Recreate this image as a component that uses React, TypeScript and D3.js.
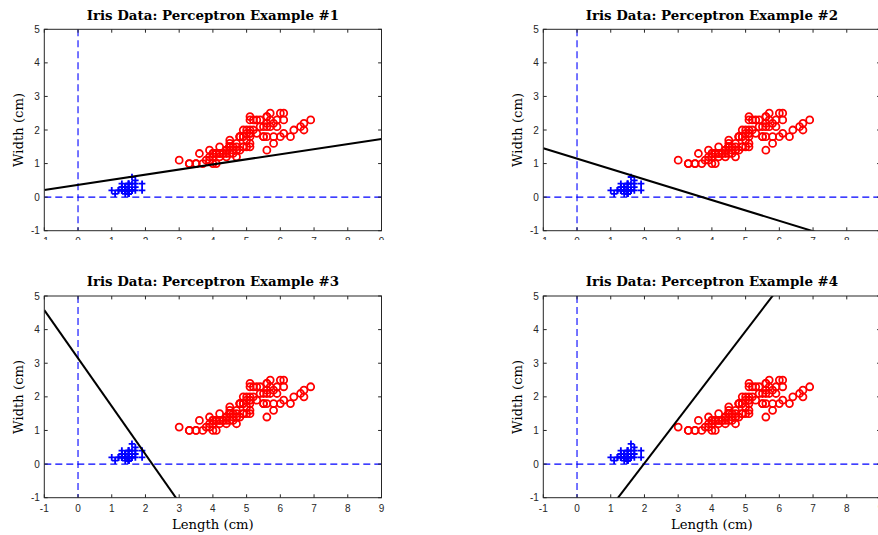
import React from "react";
import * as d3 from "d3";

// Iris petal measurements (cm)
const setosaLength = [1.4,1.4,1.3,1.5,1.4,1.7,1.4,1.5,1.4,1.5,1.5,1.6,1.4,1.1,1.2,1.5,1.3,1.4,1.7,1.5,1.7,1.5,1.0,1.7,1.9,1.6,1.6,1.5,1.4,1.6,1.6,1.5,1.5,1.4,1.5,1.2,1.3,1.5,1.3,1.5,1.3,1.3,1.3,1.6,1.9,1.4,1.6,1.4,1.5,1.4];
const setosaWidth = [0.2,0.2,0.2,0.2,0.2,0.4,0.3,0.2,0.2,0.1,0.2,0.2,0.1,0.1,0.2,0.4,0.4,0.3,0.3,0.3,0.2,0.4,0.2,0.5,0.2,0.2,0.4,0.2,0.2,0.2,0.2,0.4,0.1,0.2,0.1,0.2,0.2,0.1,0.2,0.2,0.3,0.3,0.2,0.6,0.4,0.3,0.2,0.2,0.2,0.2];
const otherLength = [4.7,4.5,4.9,4.0,4.6,4.5,4.7,3.3,4.6,3.9,3.5,4.2,4.0,4.7,3.6,4.4,4.5,4.1,4.5,3.9,4.8,4.0,4.9,4.7,4.3,4.4,4.8,5.0,4.5,3.5,3.8,3.7,3.9,5.1,4.5,4.5,4.7,4.4,4.1,4.0,4.4,4.6,4.0,3.3,4.2,4.2,4.2,4.3,3.0,4.1,
  6.0,5.1,5.9,5.6,5.8,6.6,4.5,6.3,5.8,6.1,5.1,5.3,5.5,5.0,5.1,5.3,5.5,6.7,6.9,5.0,5.7,4.9,6.7,4.9,5.7,6.0,4.8,4.9,5.6,5.8,6.1,6.4,5.6,5.1,5.6,6.1,5.6,5.5,4.8,5.4,5.6,5.1,5.1,5.9,5.7,5.2,5.0,5.2,5.4,5.1];
const otherWidth = [1.4,1.5,1.5,1.3,1.5,1.3,1.6,1.0,1.3,1.4,1.0,1.5,1.0,1.4,1.3,1.4,1.5,1.0,1.5,1.1,1.8,1.3,1.5,1.2,1.3,1.4,1.4,1.7,1.5,1.0,1.1,1.0,1.2,1.6,1.5,1.6,1.5,1.3,1.3,1.3,1.2,1.4,1.2,1.0,1.3,1.2,1.3,1.3,1.1,1.3,
  2.5,1.9,2.1,1.8,2.2,2.1,1.7,1.8,1.8,2.5,2.0,1.9,2.1,2.0,2.4,2.3,1.8,2.2,2.3,1.5,2.3,2.0,2.0,1.8,2.1,1.8,1.8,1.8,2.1,1.6,1.9,2.0,2.2,1.5,1.4,2.3,2.4,1.8,1.8,2.1,2.4,2.3,1.9,2.3,2.5,2.3,1.9,2.0,2.3,1.8];

const titles = ["Iris Data: Perceptron Example #1", "Iris Data: Perceptron Example #2", "Iris Data: Perceptron Example #3", "Iris Data: Perceptron Example #4"];
const lineSlopes = [0.152, -0.309, -1.43, 1.31];
const lineIntercepts = [0.367, 1.148, 3.15, -2.594];
const xTicks = [-1, 0, 1, 2, 3, 4, 5, 6, 7, 8, 9];
const yTicks = [-1, 0, 1, 2, 3, 4, 5];
const xDomain = [-1, 9];
const yDomain = [-1, 5];

const panels = [
  { l: 44.3, r: 381.5, t: 29.3, b: 230.7, xlabel: false, clipY: 240 },
  { l: 543.3, r: 880.5, t: 29.3, b: 230.7, xlabel: false, clipY: 240 },
  { l: 44.3, r: 381.5, t: 296, b: 497.7, xlabel: true, clipY: 535 },
  { l: 543.3, r: 880.5, t: 296, b: 497.7, xlabel: true, clipY: 535 },
];

const AX = "#262626";

function Panel({ i }: { i: number }) {
  const p = panels[i];
  const x = d3.scaleLinear().domain(xDomain).range([p.l, p.r]);
  const y = d3.scaleLinear().domain(yDomain).range([p.b, p.t]);
  const f = (v: number) => lineSlopes[i] * v + lineIntercepts[i];
  const linePath = d3.line<number>().x((v) => x(v)).y((v) => y(f(v)))(xDomain);
  const tk = 3.4;
  const clipId = `clip${i}`;
  const lblClip = `lbl${i}`;
  return (
    <g>
      <defs>
        <clipPath id={clipId}>
          <rect x={p.l} y={p.t} width={p.r - p.l} height={p.b - p.t} />
        </clipPath>
        <clipPath id={lblClip}>
          <rect x={0} y={0} width={878} height={p.clipY} />
        </clipPath>
      </defs>
      <text x={(p.l + p.r) / 2} y={p.t - 9.8} textAnchor="middle" fontFamily="DejaVu Serif" fontWeight="bold" fontSize={13.4} fill="#000">{titles[i]}</text>
      <g clipPath={`url(#${clipId})`}>
        <line x1={x(0)} x2={x(0)} y1={p.t} y2={p.b} stroke="#0000ff" strokeWidth={1.1} strokeDasharray="7,4" />
        <line x1={p.l} x2={p.r} y1={y(0)} y2={y(0)} stroke="#0000ff" strokeWidth={1.3} strokeDasharray="7,4" />
        {setosaLength.map((v, k) => (
          <path key={"s" + k} d={`M${x(v) - 3.3},${y(setosaWidth[k])}h6.6M${x(v)},${y(setosaWidth[k]) - 3.3}v6.6`} stroke="#0000ff" strokeWidth={1.8} fill="none" />
        ))}
        {otherLength.map((v, k) => (
          <circle key={"o" + k} cx={x(v)} cy={y(otherWidth[k])} r={3.5} stroke="#ff0000" strokeWidth={1.8} fill="none" />
        ))}
        <path d={linePath || ""} stroke="#000" strokeWidth={2} fill="none" />
      </g>
      <rect x={p.l} y={p.t} width={p.r - p.l} height={p.b - p.t} fill="none" stroke={AX} strokeWidth={1} />
      {xTicks.map((v) => (
        <g key={"xt" + v}>
          <line x1={x(v)} x2={x(v)} y1={p.b} y2={p.b - tk} stroke={AX} />
          <line x1={x(v)} x2={x(v)} y1={p.t} y2={p.t + tk} stroke={AX} />
        </g>
      ))}
      {yTicks.map((v) => (
        <g key={"yt" + v}>
          <line x1={p.l} x2={p.l + tk} y1={y(v)} y2={y(v)} stroke={AX} />
          <line x1={p.r} x2={p.r - tk} y1={y(v)} y2={y(v)} stroke={AX} />
          <text x={p.l - 4.5} y={y(v) + 3.6} textAnchor="end" fontFamily="Liberation Sans" fontSize={10} fill={AX}>{v}</text>
        </g>
      ))}
      <g clipPath={`url(#${lblClip})`}>
        {xTicks.map((v) => (
          <text key={"xl" + v} x={x(v)} y={p.b + 14} textAnchor="middle" fontFamily="Liberation Sans" fontSize={10} fill={AX}>{v}</text>
        ))}
      </g>
      <text transform={`translate(${p.l - 21},${(p.t + p.b) / 2}) rotate(-90)`} textAnchor="middle" fontFamily="DejaVu Serif" fontSize={13.2} fill="#000">Width (cm)</text>
      {p.xlabel && (
        <text x={(p.l + p.r) / 2} y={p.b + 31} textAnchor="middle" fontFamily="DejaVu Serif" fontSize={13.2} fill="#000">Length (cm)</text>
      )}
    </g>
  );
}

export default function App() {
  return (
    <svg width={878} height={535} style={{ position: "absolute", left: 0, top: 0, background: "#fff" }}>
      {panels.map((_, i) => <Panel key={i} i={i} />)}
    </svg>
  );
}
